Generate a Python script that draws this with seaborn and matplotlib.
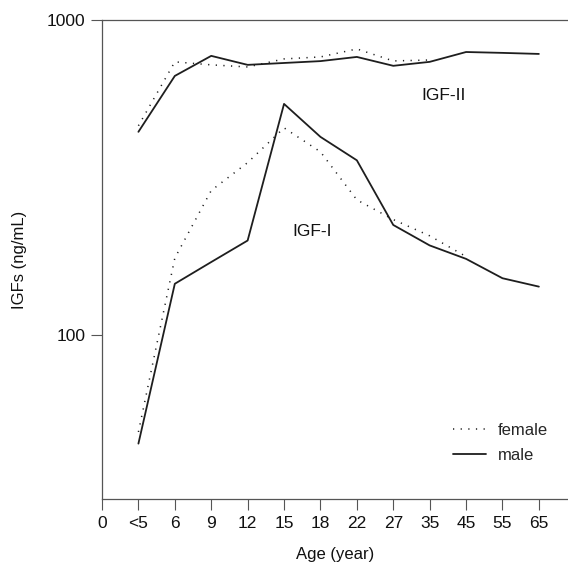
import numpy as np
import pandas as pd
import matplotlib
matplotlib.use("Agg")
import matplotlib.pyplot as plt
import seaborn as sns
from matplotlib.lines import Line2D

ages = ['<5', '6', '9', '12', '15', '18', '22', '27', '35', '45', '55', '65']
igf1_male = [45, 145, 170, 199, 541, 425, 358, 223, 192, 174, 151, 142]
igf1_female = [49, 175, 287, 352, 454, 381, 268, 232, 206, 177]
igf2_male = [441, 664, 769, 720, 730, 740, 763, 715, 736, 791, 786, 780]
igf2_female = [461, 736, 720, 709, 752, 763, 809, 741, 746]
tick_labels = ['0'] + ages

sns.set_theme(style="white")
plt.rcParams['font.family'] = ['Liberation Sans', 'DejaVu Sans']

fig = plt.figure(figsize=(5.68, 5.71), dpi=100)
ax = fig.add_axes([0.1796, 0.1261, 0.8204, 0.8389])

def frame(vals):
    return pd.DataFrame({'x': np.arange(1, len(vals) + 1), 'y': vals})

col = '#1e1e1e'
dot = (0, (0.8, 4.2))
sns.lineplot(data=frame(igf2_male), x='x', y='y', ax=ax, color=col, lw=1.3)
sns.lineplot(data=frame(igf1_male), x='x', y='y', ax=ax, color=col, lw=1.3)
sns.lineplot(data=frame(igf2_female), x='x', y='y', ax=ax, color=col, lw=1.1, linestyle=dot)
sns.lineplot(data=frame(igf1_female), x='x', y='y', ax=ax, color=col, lw=1.1, linestyle=dot)

ax.set_yscale('log')
ax.set_ylim(30, 1000)
ax.set_xlim(0, 12.8)
ax.set_yticks([100, 1000])
ax.set_yticklabels(['100', '1000'])
ax.yaxis.set_minor_locator(matplotlib.ticker.NullLocator())
ax.set_xticks(range(len(tick_labels)))
ax.set_xticklabels(tick_labels)

ax.tick_params(axis='both', which='major', direction='out', length=8, width=0.8,
               color='#555555', labelsize=12.5, labelcolor='#111111',
               left=True, bottom=True, pad=4)
for s in ['left', 'bottom', 'top']:
    ax.spines[s].set_visible(True)
    ax.spines[s].set_color('#555555')
    ax.spines[s].set_linewidth(0.9)
ax.spines['right'].set_visible(False)

ax.set_xlabel('Age (year)', fontsize=12, color='#111111', labelpad=12)
ax.set_ylabel('IGFs (ng/mL)', fontsize=12, color='#111111', labelpad=14)

ax.text(9.37, 574, 'IGF-II', fontsize=12.5, color='#111111', ha='center', va='center')
ax.text(5.77, 212, 'IGF-I', fontsize=12.5, color='#111111', ha='center', va='center')

handles = [Line2D([], [], color=col, lw=1.1, linestyle=dot),
           Line2D([], [], color=col, lw=1.3)]
ax.legend(handles, ['female', 'male'], loc='center', bbox_to_anchor=(0.855, 0.117),
          frameon=False, fontsize=12, handlelength=2.0, labelspacing=0.6,
          handletextpad=0.7)

fig.savefig('out.png', dpi=100)
